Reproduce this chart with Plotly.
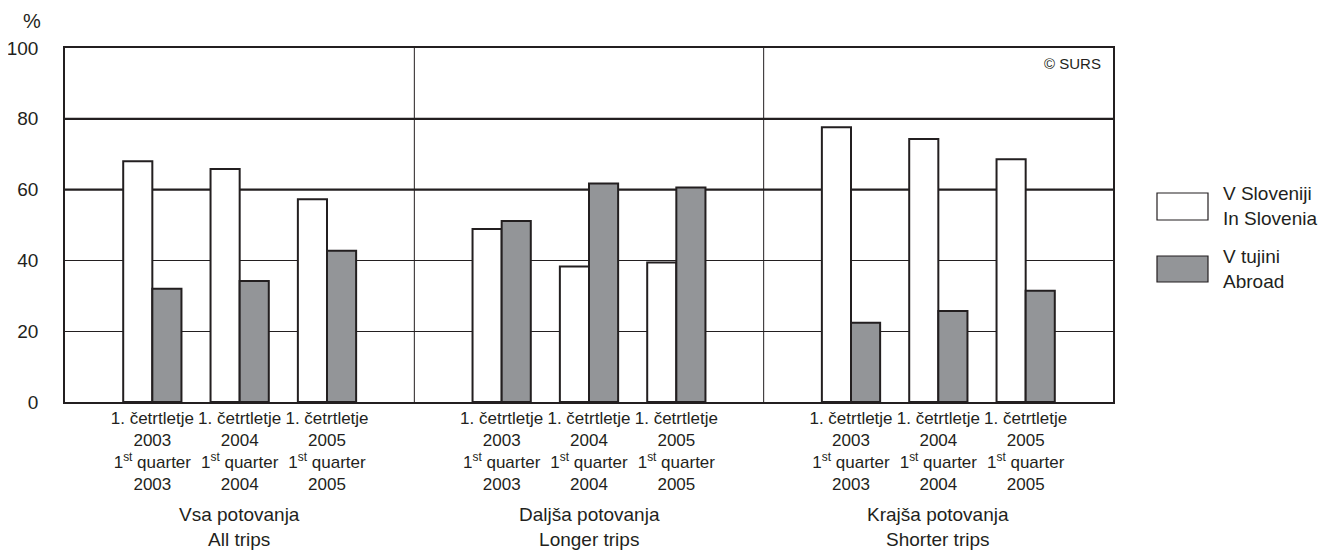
import plotly.graph_objects as go

groups = ["Vsa potovanja<br>All trips", "Daljša potovanja<br>Longer trips", "Krajša potovanja<br>Shorter trips"]
years = ["2003", "2004", "2005"]
series_names = ["V Sloveniji<br>In Slovenia", "V tujini<br>Abroad"]
in_slovenia = [68.0, 65.8, 57.3, 48.9, 38.3, 39.4, 77.6, 74.3, 68.6]
abroad = [32.0, 34.2, 42.7, 51.1, 61.7, 60.6, 22.4, 25.7, 31.4]
y_ticks = [0, 20, 40, 60, 80, 100]

colors = ["#ffffff", "#939598"]
outline = "#231f20"
FONT = "Liberation Sans, Arial, sans-serif"

# the page body has an 8px default margin; compensate so the plot sits where the reference has it
BODY = 8
W, H = 1326 - BODY, 551 - BODY
L, R, T, B = 65 - BODY, 213, 48 - BODY, 149
PW, PH = W - L - R, H - T - B

def px_x(x):  # page pixel -> paper
    return (x - BODY - L) / PW

def px_y(y):
    return (H - B - (y - BODY)) / PH

slots = len(years) + 1
xpos = [g * slots + p + 1 for g in range(len(groups)) for p in range(len(years))]
ticktext = [f"1. četrtletje<br>{y}<br>1<sup>st</sup> quarter<br>{y}" for _ in groups for y in years]

fig = go.Figure()
for name, vals, col in zip(series_names, [in_slovenia, abroad], colors):
    fig.add_trace(go.Bar(x=xpos, y=vals, name=name,
                         marker=dict(color=col, line=dict(color=outline, width=2)),
                         showlegend=False))

xmax = slots * len(groups)
fig.update_layout(
    width=W, height=H,
    margin=dict(l=L, r=R, t=T, b=B, autoexpand=False),
    paper_bgcolor="white", plot_bgcolor="white",
    barmode="group", bargap=0.333, bargroupgap=0,
    font=dict(family=FONT, color="#231f20", size=18),
    xaxis=dict(range=[0, xmax], tickmode="array", tickvals=xpos, ticktext=ticktext,
               showline=True, linecolor="#231f20", linewidth=1.5, mirror=True,
               showgrid=False, zeroline=False, ticks="", automargin=False,
               tickfont=dict(family=FONT, size=17, color="#231f20")),
    yaxis=dict(range=[0, 100], tickmode="array", tickvals=y_ticks,
               showline=True, linecolor="#231f20", linewidth=1.5, mirror=True,
               showgrid=True, gridcolor="#231f20", gridwidth=1, zeroline=False,
               ticks="", ticklabelstandoff=21, automargin=False,
               tickfont=dict(family=FONT, size=19, color="#231f20")),
)

# thicker gridlines at 60 and 80
for yv in [60, 80]:
    fig.add_shape(type="line", xref="paper", yref="y", x0=0, x1=1, y0=yv, y1=yv,
                  line=dict(color="#231f20", width=2.2), layer="below")
# panel dividers
for g in range(1, len(groups)):
    fig.add_shape(type="line", xref="x", yref="paper", x0=g * slots, x1=g * slots, y0=0, y1=1,
                  line=dict(color="#231f20", width=1), layer="below")

# group labels
for g, lab in enumerate(groups):
    fig.add_annotation(x=g * slots + slots / 2, y=px_y(527), xref="x", yref="paper", text=lab,
                       showarrow=False, yanchor="middle", font=dict(size=19, family=FONT))

# % label
fig.add_annotation(x=px_x(32), y=px_y(21), xref="paper", yref="paper", text="%", showarrow=False,
                   xanchor="center", yanchor="middle", font=dict(size=20, family=FONT))

# copyright
fig.add_annotation(x=px_x(1103), y=px_y(63), xref="paper", yref="paper", text="© SURS", showarrow=False,
                   xanchor="right", yanchor="middle", font=dict(size=15, family=FONT))

# manual legend
leg_y = [(193, 220), (256, 282)]
for (yt, yb), name, col in zip(leg_y, series_names, colors):
    fig.add_shape(type="rect", xref="paper", yref="paper", x0=px_x(1157), x1=px_x(1208),
                  y0=px_y(yb), y1=px_y(yt), fillcolor=col, line=dict(color=outline, width=1.2))
    fig.add_annotation(x=px_x(1221), y=px_y((yt + yb) / 2), xref="paper", yref="paper", text=name,
                       showarrow=False, xanchor="left", yanchor="middle", align="left",
                       font=dict(size=19, family=FONT))

fig.write_html("out.html")
